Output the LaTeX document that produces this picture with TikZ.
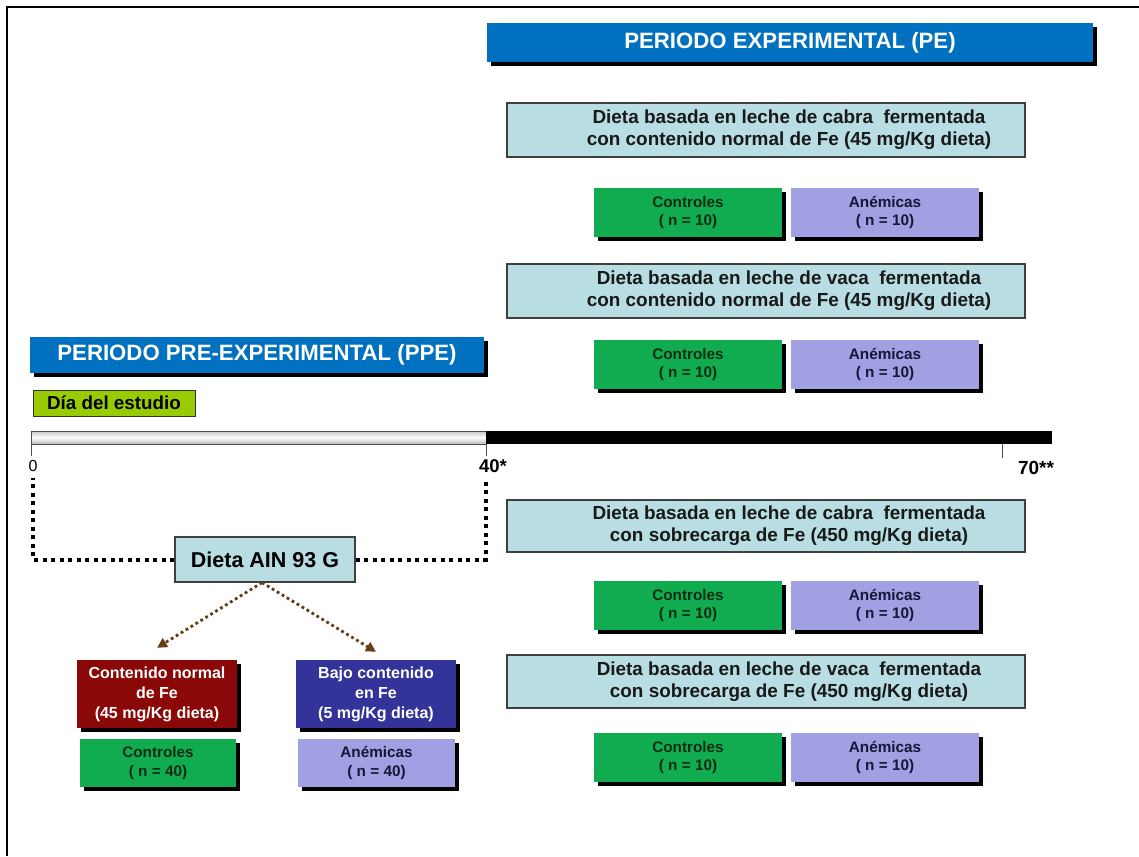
\documentclass[tikz,border=0pt]{standalone}
\usepackage{fontspec}
\setmainfont{Liberation Sans}
\usetikzlibrary{arrows.meta,shadows}

\definecolor{hdrblue}{RGB}{0,112,192}
\definecolor{paleteal}{RGB}{184,221,226}
\definecolor{ctrlgreen}{RGB}{18,172,80}
\definecolor{anemlav}{RGB}{160,160,226}
\definecolor{fered}{RGB}{139,8,8}
\definecolor{feblue}{RGB}{51,51,153}
\definecolor{daylime}{RGB}{153,204,0}
\definecolor{arrowbrown}{RGB}{102,60,20}
\definecolor{ctrltext}{RGB}{12,45,20}
\definecolor{anemtext}{RGB}{22,22,55}

\tikzset{
  shadowed/.style={drop shadow={shadow xshift=4pt,shadow yshift=-4pt,opacity=1,fill=black}},
  header/.style={shadowed, fill=hdrblue, text=white, inner sep=0pt,
    font=\fontsize{22.2}{25}\selectfont\bfseries},
  dietbox/.style={fill=paleteal, draw=black!75, line width=1.2pt, inner sep=0pt},
  diettext/.style={font=\fontsize{18.9}{22}\selectfont\bfseries, align=center, text=black!90, inner sep=0pt},
  groupbox/.style={shadowed, inner sep=0pt, align=center,
    font=\fontsize{15.3}{18.5}\selectfont\bfseries},
  ctrl/.style={groupbox, fill=ctrlgreen, text=ctrltext, minimum width=188pt, minimum height=49pt},
  anem/.style={groupbox, fill=anemlav, text=anemtext, minimum width=188pt, minimum height=49pt},
  febox/.style={groupbox, text=white, minimum width=160pt, minimum height=68pt,
    font=\fontsize{16}{20}\selectfont\bfseries},
  bracket/.style={line width=4pt, dash pattern=on 4pt off 4.5pt},
  branch/.style={arrowbrown, line width=2.8pt, dash pattern=on 2.8pt off 3pt,
    -{Triangle[length=10pt,width=10pt]}},
  tick/.style={black!70, line width=1pt},
}

\begin{document}
\begin{tikzpicture}[x=1pt,y=-1pt]
\useasboundingbox (0,0) rectangle (1139,856);
\fill[white] (0,0) rectangle (1139,856);

% page frame (top and left edges)
\draw[line width=2pt] (7,856) -- (7,7) -- (1139,7);

% period headers
\node[header, minimum width=606pt, minimum height=39pt] (pe) at (790,42.5) {PERIODO EXPERIMENTAL (PE)};
\node[header, minimum width=454pt, minimum height=36pt] (ppe) at (257,355) {PERIODO PRE-EXPERIMENTAL (PPE)};

% study-day tag
\node[draw=black!80, fill=daylime, line width=1pt, inner sep=0pt,
      minimum width=162pt, minimum height=26pt,
      font=\fontsize{18.8}{20}\selectfont\bfseries] (dia) at (114,403) {Día del estudio};

% time line
\shade[top color=gray!45, bottom color=gray!55, middle color=white, draw=black!70, line width=1pt]
  (31,431) rectangle (486,444);
\fill[black] (486,431) rectangle (1052,444);
\coordinate (t0) at (31,444);
\coordinate (t40) at (486,444);
\coordinate (t70) at (1002,444);
\draw[tick] (t0) -- ++(0,12);
\draw[tick] (t40) -- ++(0,12);
\draw[tick] (t70) -- ++(0,14);
\node[font=\fontsize{16}{17}\selectfont] (l0) at (33,466) {0};
\node[font=\fontsize{18.5}{20}\selectfont\bfseries] (l40) at (493,466) {40*};
\node[font=\fontsize{19}{20}\selectfont\bfseries] (l70) at (1036,468) {70**};

% pre-experimental diet and its bracket over days 0-40
\node[dietbox, minimum width=180pt, minimum height=45pt,
      font=\fontsize{21.5}{24}\selectfont\bfseries] (ain) at (265,559.5) {Dieta AIN 93 G};
\coordinate (bl) at (33,478);
\coordinate (br) at (486,478);
\draw[bracket] (ain.west) -| (bl);
\draw[bracket] (ain.east) -| (br);

% iron content groups
\node[febox, fill=fered] (fenorm) at (157,694) {Contenido normal\\de Fe\\(45 mg/Kg dieta)};
\node[febox, fill=feblue] (felow) at (376,694) {Bajo contenido\\en Fe\\(5 mg/Kg dieta)};
\node[ctrl, minimum width=156pt, minimum height=48pt] (c40) at (158,763) {Controles\\( n = 40)};
\node[anem, minimum width=157pt, minimum height=48pt] (a40) at (376.5,763) {Anémicas\\( n = 40)};
\draw[branch] ([xshift=-3pt]ain.south) -- ([yshift=12pt]fenorm.north);
\draw[branch] ([xshift=-3pt]ain.south) -- ([yshift=8pt]felow.north);

% experimental diets
\node[dietbox, minimum width=518pt, minimum height=54pt] (d1) at (766,130) {};
\node[diettext] (d1t) at (789,130) {Dieta basada en leche de cabra\ \ fermentada\\con contenido normal de Fe (45 mg/Kg dieta)};
\node[ctrl] (c1) at (688,212.5) {Controles\\( n = 10)};
\node[anem] (a1) at (885,212.5) {Anémicas\\( n = 10)};

\node[dietbox, minimum width=518pt, minimum height=54pt] (d2) at (766,291) {};
\node[diettext] (d2t) at (789,291) {Dieta basada en leche de vaca\ \ fermentada\\con contenido normal de Fe (45 mg/Kg dieta)};
\node[ctrl] (c2) at (688,364.5) {Controles\\( n = 10)};
\node[anem] (a2) at (885,364.5) {Anémicas\\( n = 10)};

\node[dietbox, minimum width=518pt, minimum height=52pt] (d3) at (766,526) {};
\node[diettext] (d3t) at (789,526) {Dieta basada en leche de cabra\ \ fermentada\\con sobrecarga de Fe (450 mg/Kg dieta)};
\node[ctrl] (c3) at (688,605.5) {Controles\\( n = 10)};
\node[anem] (a3) at (885,605.5) {Anémicas\\( n = 10)};

\node[dietbox, minimum width=518pt, minimum height=53pt] (d4) at (766,681.5) {};
\node[diettext] (d4t) at (789,681.5) {Dieta basada en leche de vaca\ \ fermentada\\con sobrecarga de Fe (450 mg/Kg dieta)};
\node[ctrl] (c4) at (688,757.5) {Controles\\( n = 10)};
\node[anem] (a4) at (885,757.5) {Anémicas\\( n = 10)};
\end{tikzpicture}
\end{document}
